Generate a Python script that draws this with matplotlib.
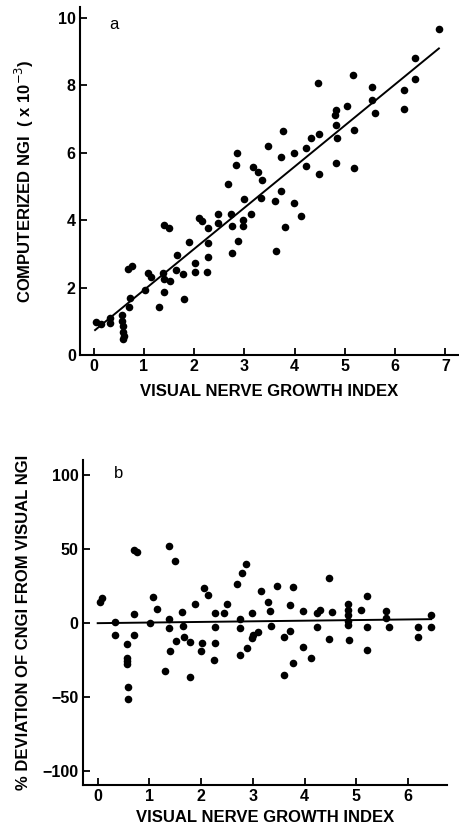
import matplotlib

matplotlib.use("Agg")

import matplotlib.pyplot as plt

# panel a: visual nerve growth index vs computerized NGI (x 10^-3)
ngi_visual_a = [
    0.05, 0.15, 0.32, 0.33, 0.57, 0.57, 0.58, 0.59, 0.61, 0.59,
    0.71, 0.73, 0.69, 0.76, 1.02, 1.09, 1.14, 1.30, 1.40, 1.39,
    1.41, 1.40, 1.51, 1.52, 1.65, 1.63, 1.77, 1.79, 1.90, 2.02,
    2.02, 2.09, 2.15, 2.27, 2.28, 2.28, 2.25, 2.48, 2.47, 2.68,
    2.74, 2.75, 2.75, 2.88, 2.86, 2.83, 2.99, 2.98, 2.98, 3.13,
    3.17, 3.28, 3.35, 3.34, 3.48, 3.61, 3.73, 3.73, 3.62, 3.81,
    3.77, 3.98, 3.99, 4.12, 4.22, 4.32, 4.23, 4.49, 4.48, 4.46,
    4.83, 5.18, 4.84, 5.18, 4.83, 4.83, 4.80, 5.05, 5.16, 5.53,
    5.53, 5.60, 6.17, 6.17, 6.40, 6.40, 6.87,
]
ngi_computed = [
    0.98, 0.92, 1.11, 0.95, 1.19, 1.02, 0.86, 0.69, 0.56, 0.47,
    1.43, 1.68, 2.54, 2.64, 1.93, 2.42, 2.32, 1.41, 1.88, 2.42,
    2.26, 3.86, 3.76, 2.20, 2.97, 2.51, 2.40, 1.65, 3.36, 2.72,
    2.47, 4.06, 3.98, 3.78, 3.31, 2.92, 2.47, 4.20, 3.93, 5.07,
    4.18, 3.82, 3.04, 3.37, 5.99, 5.63, 4.64, 4.00, 3.83, 4.18,
    5.58, 5.44, 5.19, 4.65, 6.20, 4.58, 5.87, 4.88, 3.09, 3.81,
    6.66, 6.01, 4.52, 4.13, 6.15, 6.43, 5.62, 6.55, 5.38, 8.06,
    5.70, 5.54, 6.43, 6.67, 6.83, 7.28, 7.12, 7.40, 8.30, 7.96,
    7.58, 7.18, 7.86, 7.31, 8.82, 8.20, 9.68,
]
fit_a_x = [0.03, 6.87]
fit_a_y = [0.74, 9.10]

# panel b: % deviation of CNGI from visual NGI
ngi_visual_b = [
    0.05, 0.09, 0.33, 0.33, 0.71, 0.76, 0.71, 0.71, 0.56, 0.56,
    0.56, 0.56, 0.58, 0.58, 1.02, 1.06, 1.14, 1.30, 1.38, 1.50,
    1.38, 1.38, 1.51, 1.39, 1.64, 1.65, 1.66, 1.79, 1.79, 1.88,
    2.01, 2.00, 2.06, 2.14, 2.26, 2.27, 2.26, 2.24, 2.45, 2.51,
    2.69, 2.80, 2.87, 2.75, 2.75, 2.76, 2.89, 2.98, 3.01, 3.10,
    2.99, 3.15, 3.29, 3.34, 3.35, 3.47, 3.78, 3.72, 3.61, 3.72,
    3.78, 3.61, 3.98, 3.98, 4.12, 4.24, 4.24, 4.30, 4.47, 4.48,
    4.54, 4.85, 4.85, 4.85, 4.85, 4.85, 4.86, 5.09, 5.21, 5.21,
    5.21, 5.58, 5.58, 5.64, 6.19, 6.20, 6.45, 6.45,
]
pct_deviation = [
    14.2, 16.6, 0.9, -8.1, 49.3, 47.6, 6.1, -8.1, -14.2, -23.6,
    -25.7, -27.7, -43.6, -51.6, -0.2, 17.4, 9.5, -32.4, 52.0, 41.9,
    2.5, -3.7, -12.2, -18.7, 7.4, -2.2, -9.3, -13.2, -36.8, 12.7,
    -13.3, -18.7, 23.6, 18.9, 7.0, -2.9, -13.3, -24.8, 7.0, 12.6,
    26.2, 33.8, 39.9, 2.5, -3.4, -21.5, -17.0, -10.3, -8.4, -6.1,
    6.6, 21.6, 14.3, 7.8, -2.2, 25.0, 23.9, 12.2, -9.3, -5.6,
    -26.8, -35.1, 7.9, -16.4, -23.8, -2.9, 7.0, 8.4, 30.6, -10.6,
    7.1, 12.8, 8.8, 5.4, 1.6, -1.7, -11.5, 8.8, 18.4, -2.5,
    -18.2, 8.1, 3.2, -3.0, -2.5, -9.3, -2.5, 5.2,
]
fit_b_x = [0.0, 6.45]
fit_b_y = [-0.2, 2.5]

W, H = 460, 833
plt.rcParams["font.family"] = ["Liberation Sans", "DejaVu Sans"]

fig = plt.figure(figsize=(W / 100, H / 100), dpi=100)


def px_rect(left, top, right, bottom):
    return [left / W, 1 - bottom / H, (right - left) / W, (bottom - top) / H]


def style_axes(ax):
    for side in ("top", "right"):
        ax.spines[side].set_visible(False)
    for side in ("left", "bottom"):
        ax.spines[side].set_linewidth(1.5)
    ax.tick_params(direction="in", length=5, width=1.3, labelsize=11.5, pad=3)
    for lab in ax.get_xticklabels() + ax.get_yticklabels():
        lab.set_fontweight("bold")


label_kw = dict(fontsize=12, fontweight="bold")

# --- panel a ---
ax1 = fig.add_axes(px_rect(80, 7, 458, 355))
ax1.scatter(ngi_visual_a, ngi_computed, s=30, color="black", linewidths=0, zorder=3)
ax1.plot(fit_a_x, fit_a_y, color="black", linewidth=1.4)
ax1.set_xlim(-0.27, 7.25)
ax1.set_ylim(0, 10.33)
ax1.set_xticks(range(0, 8))
ax1.set_yticks(range(0, 11, 2))
style_axes(ax1)
ax1.set_xlabel("VISUAL NERVE GROWTH INDEX", labelpad=7, **label_kw)
ax1.set_ylabel("COMPUTERIZED NGI  ( x 10$^{-3}$)", labelpad=16, **label_kw)
ax1.text(0.4, 9.8, "a", fontsize=12, ha="center", va="center")

# --- panel b ---
ax2 = fig.add_axes(px_rect(82.7, 460, 446.7, 785))
ax2.scatter(ngi_visual_b, pct_deviation, s=30, color="black", linewidths=0, zorder=3)
ax2.plot(fit_b_x, fit_b_y, color="black", linewidth=1.4)
ax2.set_xlim(-0.29, 6.75)
ax2.set_ylim(-109.5, 110)
ax2.set_xticks(range(0, 7))
ax2.set_yticks([-100, -50, 0, 50, 100])
style_axes(ax2)
ax2.set_xlabel("VISUAL NERVE GROWTH INDEX", labelpad=4, **label_kw)
ax2.set_ylabel("% DEVIATION OF CNGI FROM VISUAL NGI", labelpad=8, **label_kw)
ax2.text(0.4, 101, "b", fontsize=12, ha="center", va="center")

fig.savefig("out.png", dpi=100)
plt.close(fig)
